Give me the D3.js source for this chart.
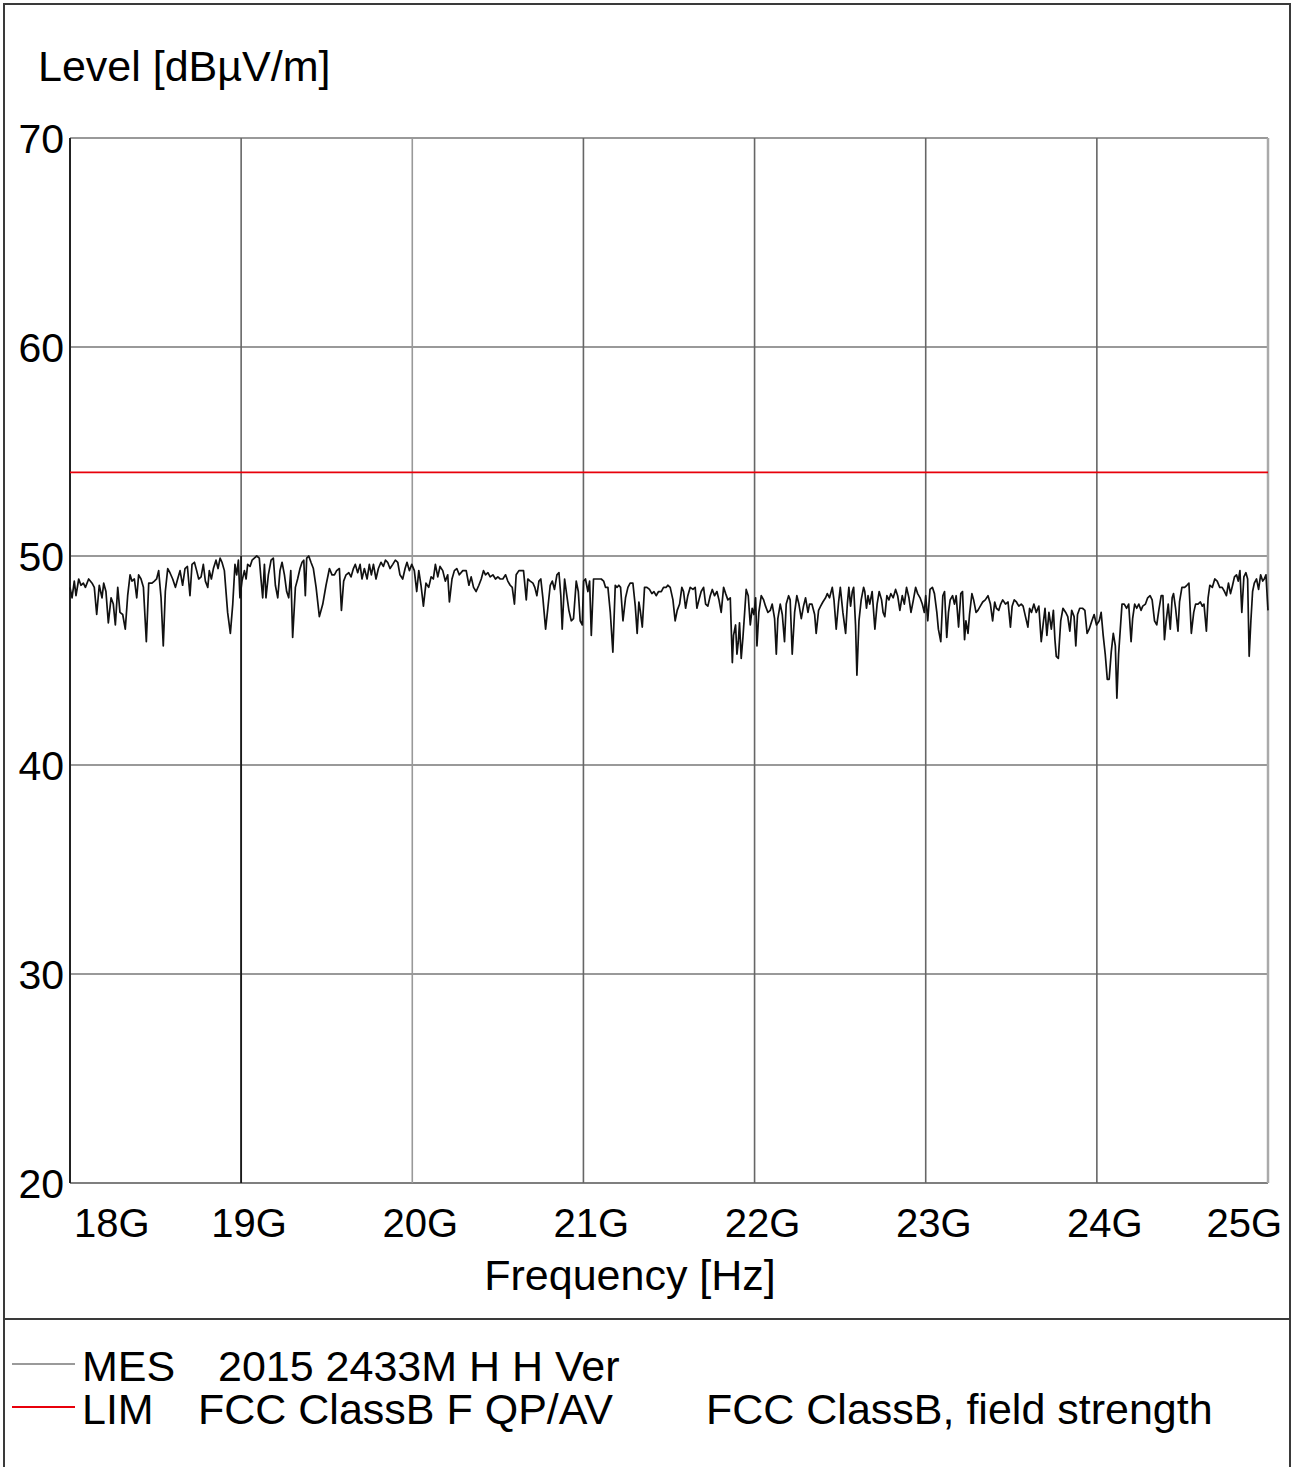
<!DOCTYPE html>
<html>
<head>
<meta charset="utf-8">
<script src="https://cdn.jsdelivr.net/npm/d3@7"></script>
<style>
  body { margin: 0; background: #fff; }
  svg { display: block; }
  text { font-family: "Liberation Sans", Arial, sans-serif; fill: #000; }
</style>
</head>
<body>
<svg id="chart" width="1298" height="1467"></svg>
<script>
// measured trace, frequency in MHz and level in dBµV/m
const mesFreq = [
  18000,18012,18025,18035,18051,18064,18078,18090,18109,18129,18142,18156,18171,18187,18197,18210,
  18224,18240,18253,18265,18279,18292,18308,18323,18337,18351,18362,18376,18390,18401,18415,18429,
  18446,18460,18479,18493,18506,18518,18532,18545,18557,18571,18584,18600,18616,18629,18643,18658,
  18672,18686,18701,18713,18727,18740,18752,18766,18779,18791,18805,18814,18826,18838,18853,18865,
  18877,18888,18902,18921,18937,18951,18964,18974,18984,18993,19005,19019,19029,19038,19052,19064,
  19077,19091,19106,19116,19126,19136,19145,19159,19175,19188,19200,19214,19227,19239,19253,19266,
  19278,19290,19301,19317,19330,19344,19356,19366,19375,19383,19395,19408,19422,19438,19457,19477,
  19496,19516,19531,19545,19558,19574,19586,19599,19613,19629,19642,19656,19667,19681,19695,19706,
  19720,19736,19749,19761,19773,19788,19802,19817,19831,19843,19856,19870,19886,19901,19915,19928,
  19944,19958,19969,19983,19997,20012,20026,20038,20051,20065,20080,20096,20110,20123,20135,20149,
  20162,20178,20193,20207,20217,20232,20246,20260,20275,20295,
  20315,20331,20344,20358,20373,20389,20403,20416,20428,20442,20455,20471,20486,20500,20514,20529,
  20545,20558,20572,20584,20597,20607,20623,20636,20650,20666,20675,20689,20705,20716,20728,20740,
  20751,20763,20779,20792,20806,20818,20831,20845,20857,20868,20876,20890,20903,20915,20929,20942,
  20958,20970,20981,20993,21001,21012,21026,21036,21046,21059,21075,21090,21104,21118,21129,21143,
  21157,21172,21186,21196,21207,21217,21231,21246,21260,21273,21289,21303,21314,21324,21332,21344,
  21357,21371,21386,21400,21412,21425,21439,21455,21468,21484,21493,21507,21523,21536,21548,21562,
  21575,21585,21597,21610,21624,21640,21653,21663,21675,21688,21702,21714,21727,21741,21753,21766,
  21780,21792,21805,21819,21831,21844,21858,21870,21877,21889,21897,21905,21912,21922,21932,21942,
  21951,21963,21975,21986,21996,22006,22014,22025,22039,22053,22064,22078,22092,22103,22117,22127,
  22136,22150,22162,22175,22185,22199,22208,22220,22234,22247,22259,22273,22286,22298,22312,22321,
  22335,22351,22360,22374,22386,22399,22415,22425,22438,22454,22464,22477,22491,22501,22516,22532,
  22542,22551,22561,22571,22579,22590,22598,22610,22623,22637,
  22644,22654,22663,22673,22687,22703,22716,22728,22742,22751,22761,22773,22785,22796,22810,22824,
  22836,22849,22863,22875,22888,22902,22914,22928,22941,22953,22967,22980,22992,23000,23012,23025,
  23039,23051,23065,23074,23088,23100,23110,23123,23133,23143,23157,23168,23178,23192,23205,23215,
  23227,23235,23247,23256,23270,23280,23294,23305,23319,23333,23348,23364,23378,23391,23403,23413,
  23427,23438,23450,23466,23481,23495,23505,23517,23530,23544,23558,23569,23583,23597,23607,23618,
  23632,23646,23661,23675,23687,23697,23708,23720,23734,23746,23755,23763,23775,23789,23802,23818,
  23830,23842,23853,23867,23877,23887,23900,23916,23930,23943,23955,23971,23984,23998,24014,24025,
  24037,24049,24061,24072,24084,24096,24108,24117,24127,24137,24147,24160,24174,24186,24200,24209,
  24221,24233,24245,24258,24268,24284,24297,24311,24323,24337,24350,24362,24376,24386,24395,24405,
  24417,24429,24440,24448,24460,24474,24483,24497,24513,24526,24538,24552,24566,24577,24591,24605,
  24616,24626,24640,24650,24660,24675,24689,24703,24718,24732,24746,24757,24769,24781,24793,24804,
  24816,24826,24836,24847,24859,24871,24881,24890,24900,24910,24920,24933,24945,24957,24969,24978,
  24988,25000
];
const mesLevel = [
  48.5,48.0,48.8,48.1,48.9,48.6,48.7,48.5,48.9,48.7,48.5,47.2,48.6,48.0,48.7,48.3,
  46.8,48.0,47.7,46.7,48.5,47.3,47.2,46.5,48.1,49.1,48.8,48.9,48.0,49.1,48.9,48.5,
  45.9,48.7,48.7,48.8,48.9,49.3,48.0,45.7,48.3,49.4,49.2,48.9,48.5,48.9,49.3,48.6,
  49.4,49.5,48.1,49.6,49.7,49.3,48.9,49.0,49.6,48.8,48.5,49.3,48.9,49.4,49.8,49.4,
  49.9,49.7,49.3,47.3,46.3,47.7,49.6,49.1,49.8,48.0,48.8,49.3,48.9,49.6,49.5,49.8,
  49.9,50.0,49.9,48.9,48.0,49.6,48.0,49.1,49.8,49.9,48.6,48.0,49.3,49.7,49.1,48.3,
  48.0,49.3,46.1,48.5,48.9,49.4,49.7,49.8,48.1,49.9,50.0,49.7,49.4,48.5,47.1,47.7,
  48.6,49.4,49.1,49.1,49.3,49.4,47.4,48.8,49.1,49.2,49.0,49.4,49.6,49.2,49.6,48.9,
  49.4,48.9,49.6,49.1,49.6,48.9,49.4,49.7,49.5,49.8,49.7,49.4,49.6,49.8,49.7,49.1,
  48.9,49.4,49.7,49.3,49.6,49.3,48.3,49.3,48.6,47.6,48.7,48.5,49.0,48.9,49.6,49.0,
  49.5,49.3,48.8,49.1,47.8,48.9,49.3,49.4,49.1,49.3,
  49.3,48.6,49.0,48.5,48.3,48.6,48.9,49.3,49.1,49.2,49.0,49.1,48.9,49.0,48.9,48.9,
  49.1,48.8,48.6,48.5,47.7,49.1,49.3,49.3,49.3,47.9,48.9,48.8,48.7,48.5,48.1,48.8,
  48.9,48.0,46.5,47.5,48.6,48.8,48.4,49.1,49.2,48.1,46.5,48.9,48.1,47.4,46.9,47.0,
  48.8,48.3,46.9,46.7,48.8,48.9,48.3,48.8,46.2,48.9,48.9,48.9,48.9,48.8,48.5,48.5,
  47.3,45.4,48.6,48.5,48.6,48.5,46.9,48.0,48.5,48.7,48.7,47.6,46.3,47.8,47.4,46.6,
  48.5,48.5,48.4,48.2,48.3,48.1,48.3,48.3,48.5,48.5,48.6,48.5,47.9,46.9,47.4,47.7,
  48.5,48.3,47.5,48.1,48.5,48.4,48.5,47.5,47.9,48.3,48.5,47.7,47.6,48.1,48.4,48.1,
  48.3,47.9,47.3,48.5,48.2,47.9,48.0,44.9,46.2,46.7,45.3,45.9,46.8,45.1,46.1,47.3,
  48.4,48.1,46.7,47.5,47.2,48.0,45.7,47.3,48.1,47.9,47.6,47.3,47.4,47.7,47.0,45.3,
  47.0,47.7,47.2,45.9,47.7,48.1,47.9,45.3,47.3,48.1,47.7,47.0,47.6,48.0,47.3,47.7,
  47.7,47.2,46.3,47.4,47.6,47.8,48.0,48.2,48.0,48.5,47.9,46.5,47.8,48.5,47.3,46.3,
  47.7,48.5,47.6,48.3,48.5,46.7,44.3,46.9,47.9,48.5,
  48.3,47.5,48.1,47.7,48.3,46.5,47.7,48.3,47.9,47.3,47.1,48.1,47.9,48.2,48.0,48.4,
  48.1,47.4,48.1,47.7,48.5,48.0,47.3,47.9,48.5,48.2,48.0,47.7,47.3,48.1,46.9,48.4,
  48.5,48.2,47.3,46.5,45.9,48.1,48.3,46.1,47.3,47.9,48.1,47.7,48.1,46.6,48.2,48.3,
  46.0,46.9,46.3,47.2,48.2,47.9,47.3,47.4,47.6,47.8,47.9,48.1,47.7,46.9,47.8,47.5,
  47.4,47.7,47.9,47.7,47.8,46.6,47.6,47.9,47.8,47.6,47.7,47.6,47.1,46.6,47.5,47.3,
  47.7,47.3,47.6,45.9,46.8,47.5,46.2,47.3,46.5,47.4,46.0,45.2,45.1,46.9,47.5,47.3,
  47.1,46.4,47.4,47.1,45.7,47.2,47.5,47.5,47.4,46.3,46.5,46.9,47.2,46.7,46.9,47.3,
  46.2,45.3,44.1,44.1,45.4,46.3,45.7,43.2,45.3,46.5,47.7,47.7,47.5,47.7,45.9,47.0,
  47.7,47.5,47.7,47.4,47.6,47.7,48.0,48.1,47.9,46.9,46.7,47.4,48.1,48.1,46.0,46.9,
  47.7,46.5,48.0,48.2,47.5,46.4,47.8,48.5,48.5,48.6,48.7,46.3,47.3,47.7,47.7,47.8,
  47.6,47.7,46.4,48.0,48.6,48.5,48.9,48.8,48.5,48.5,48.3,48.1,48.7,48.2,48.6,49.0,
  49.1,48.8,49.3,47.3,49.0,49.2,48.9,45.2,46.9,48.3,48.7,48.9,48.4,49.1,48.8,48.9,
  49.1,47.4
];

// limit line (FCC class B, field strength)
const limFreq = [18000, 25000];
const limLevel = [54, 54];

const xTicks = [18000, 19000, 20000, 21000, 22000, 23000, 24000, 25000];
const xTickLabels = ["18G", "19G", "20G", "21G", "22G", "23G", "24G", "25G"];
const yTicks = [20, 30, 40, 50, 60, 70];

const legendItems = [
  {key: "MES", name: "2015 2433M H H Ver", desc: "", color: "#9a9a9a", nameX: 218},
  {key: "LIM", name: "FCC ClassB F QP/AV", desc: "FCC ClassB, field strength", color: "#e8000b", nameX: 198}
];

const svg = d3.select("#chart");
const plot = {left: 70, right: 1268, top: 138, bottom: 1183};

const x = d3.scaleLinear().domain([18000, 25000]).range([plot.left, plot.right]);
const y = d3.scaleLinear().domain([20, 70]).range([plot.bottom, plot.top]);

// outer frame and legend divider
svg.append("rect")
  .attr("x", 4).attr("y", 4)
  .attr("width", 1286).attr("height", 1470)
  .attr("fill", "none").attr("stroke", "#3a3a3a").attr("stroke-width", 2);
svg.append("line")
  .attr("x1", 4).attr("x2", 1290).attr("y1", 1319).attr("y2", 1319)
  .attr("stroke", "#3a3a3a").attr("stroke-width", 2);

// horizontal grid
svg.append("g").selectAll("line")
  .data(yTicks)
  .enter().append("line")
  .attr("x1", plot.left).attr("x2", plot.right)
  .attr("y1", d => y(d)).attr("y2", d => y(d))
  .attr("stroke", d => d === 20 ? "#555" : "#777")
  .attr("stroke-width", 1.6);

// vertical grid
function gridColor(f) {
  if (f === 20000) return "#999";
  if (f === 25000) return "#aaa";
  return "#666";
}
svg.append("g").selectAll("line")
  .data(xTicks.slice(1))
  .enter().append("line")
  .attr("x1", d => x(d)).attr("x2", d => x(d))
  .attr("y1", plot.top).attr("y2", plot.bottom)
  .attr("stroke", gridColor)
  .attr("stroke-width", d => d === 25000 ? 2.5 : 1.6);

// the 19G line is drawn darker below the trace in the original
svg.append("line")
  .attr("x1", x(19000)).attr("x2", x(19000))
  .attr("y1", y(50)).attr("y2", plot.bottom)
  .attr("stroke", "#1a1a1a").attr("stroke-width", 1.8);

// left axis line
svg.append("line")
  .attr("x1", plot.left).attr("x2", plot.left)
  .attr("y1", plot.top).attr("y2", plot.bottom)
  .attr("stroke", "#222").attr("stroke-width", 2);

// limit line
const limData = limFreq.map((f, i) => [f, limLevel[i]]);
const mesData = mesFreq.map((f, i) => [f, mesLevel[i]]);
const line = d3.line().x(d => x(d[0])).y(d => y(d[1]));

svg.append("path")
  .datum(limData)
  .attr("d", line)
  .attr("fill", "none")
  .attr("stroke", "#e8000b")
  .attr("stroke-width", 1.8);

svg.append("path")
  .datum(mesData)
  .attr("d", line)
  .attr("fill", "none")
  .attr("stroke", "#111")
  .attr("stroke-width", 1.7)
  .attr("stroke-linejoin", "round");

// y tick labels
svg.append("g").selectAll("text")
  .data(yTicks)
  .enter().append("text")
  .attr("x", 64)
  .attr("y", d => y(d) + 15)
  .attr("text-anchor", "end")
  .style("font-size", "41px")
  .text(d => d);

// x tick labels
svg.append("g").selectAll("text")
  .data(xTicks)
  .enter().append("text")
  .attr("x", (d, i) => i === 0 ? plot.left + 4 : (i === xTicks.length - 1 ? plot.right + 14 : x(d) + 8))
  .attr("y", 1237)
  .attr("text-anchor", (d, i) => i === 0 ? "start" : (i === xTicks.length - 1 ? "end" : "middle"))
  .style("font-size", "40px")
  .text((d, i) => xTickLabels[i]);

// axis titles
svg.append("text")
  .attr("x", 38).attr("y", 81)
  .style("font-size", "43px")
  .text("Level [dBµV/m]");
svg.append("text")
  .attr("x", 630).attr("y", 1290)
  .attr("text-anchor", "middle")
  .style("font-size", "43px")
  .text("Frequency [Hz]");

// legend
const leg = svg.append("g").selectAll("g")
  .data(legendItems)
  .enter().append("g")
  .attr("transform", (d, i) => "translate(0," + (1381 + i * 43) + ")");
leg.append("line")
  .attr("x1", 12).attr("x2", 75)
  .attr("y1", -17).attr("y2", -17)
  .attr("stroke", d => d.color).attr("stroke-width", 2);
leg.append("text")
  .attr("x", 82)
  .style("font-size", "43px")
  .text(d => d.key);
leg.append("text")
  .attr("x", d => d.nameX)
  .style("font-size", "43px")
  .text(d => d.name);
leg.append("text")
  .attr("x", 706)
  .style("font-size", "43px")
  .text(d => d.desc);
</script>
</body>
</html>
